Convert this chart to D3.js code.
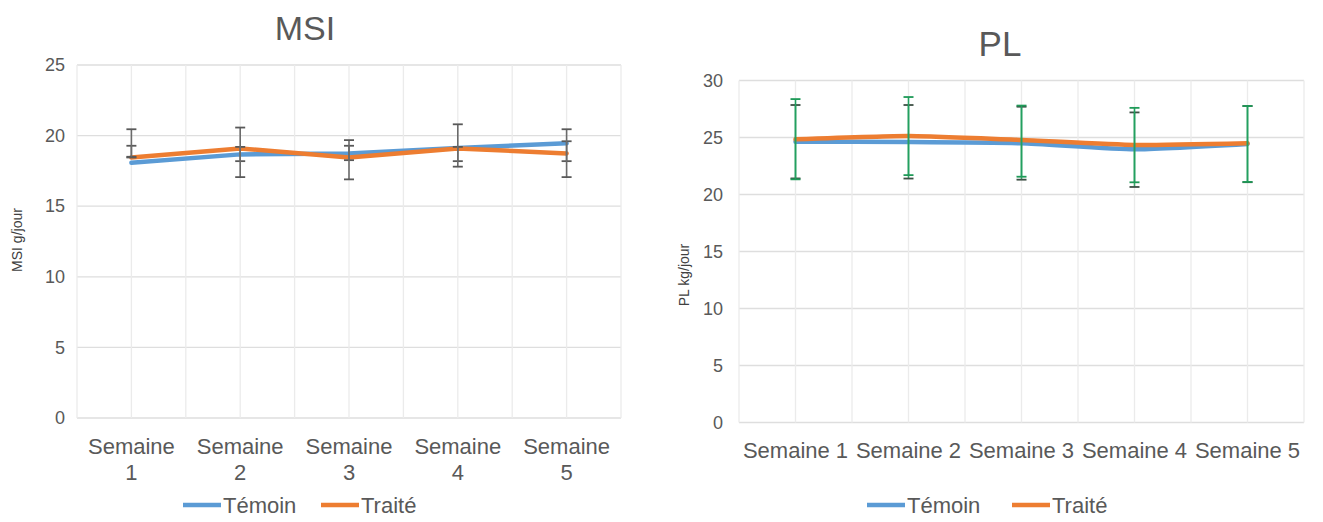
<!DOCTYPE html>
<html><head><meta charset="utf-8">
<script src="https://cdn.jsdelivr.net/npm/d3@7"></script>
<style>
html,body{margin:0;padding:0;background:#fff;}
text{font-family:"Liberation Sans",Arial,sans-serif;}
</style></head>
<body>
<svg id="chart" width="1323" height="522"></svg>
<script>
// ---------- data ----------
const weeks = ["Semaine 1","Semaine 2","Semaine 3","Semaine 4","Semaine 5"];
const seriesNames = ["Témoin","Traité"];

const msiTemoin = [18.07, 18.67, 18.74, 19.13, 19.45];
const msiTraite = [18.45, 19.09, 18.45, 19.09, 18.74];
const msiTemoinLow  = [18.5, 18.19, 18.26, 18.19, 18.19];
const msiTemoinHigh = [19.28, 19.2, 19.28, 19.2, 19.6];
const msiTraiteLow  = [18.45, 17.06, 16.9, 17.8, 17.06];
const msiTraiteHigh = [20.45, 20.57, 19.68, 20.8, 20.45];
const msiTicks = [0,5,10,15,20,25];

const plTemoin = [24.63, 24.6, 24.49, 23.96, 24.43];
const plTraite = [24.84, 25.13, 24.78, 24.34, 24.49];
const plTemoinLow  = [21.41, 21.4, 21.3, 20.66, 21.08];
const plTemoinHigh = [27.85, 27.85, 27.7, 27.2, 27.76];
const plTraiteLow  = [21.33, 21.7, 21.56, 21.07, 21.1];
const plTraiteHigh = [28.37, 28.55, 27.8, 27.6, 27.76];
const plTicks = [0,5,10,15,20,25,30];

const colors = {"Témoin":"#5B9BD5","Traité":"#ED7D31"};

const svg = d3.select("#chart");

function drawChart(cfg){
  const g = svg.append("g");
  const x = d3.scaleBand().domain(weeks).range([cfg.left, cfg.right]).padding(0);
  const y = d3.scaleLinear().domain([0, cfg.ymax]).range([cfg.bottom, cfg.top]);
  const gx = d3.scaleLinear().domain([0, weeks.length*2]).range([cfg.left, cfg.right]);

  // horizontal gridlines
  g.selectAll(".hg").data(cfg.ticks).join("line")
    .attr("x1", cfg.left).attr("x2", cfg.right)
    .attr("y1", d=>y(d)).attr("y2", d=>y(d))
    .attr("stroke", "#dedede").attr("stroke-width", 1.3);
  // vertical gridlines
  g.selectAll(".vg").data(d3.range(weeks.length*2+1)).join("line")
    .attr("x1", d=>gx(d)).attr("x2", d=>gx(d))
    .attr("y1", cfg.top).attr("y2", cfg.bottom)
    .attr("stroke", "#ebebeb").attr("stroke-width", 1.3);

  // y tick labels
  const ya = d3.axisLeft(y).tickValues(cfg.ticks).tickSize(0).tickPadding(cfg.tickPad);
  const yg = g.append("g").attr("transform", `translate(${cfg.left},0)`).call(ya);
  yg.select(".domain").remove();
  yg.selectAll("text").attr("fill","#595959").style("font-size","18px")
    .style("font-family","'Liberation Sans',Arial,sans-serif");

  // x labels
  const xa = d3.axisBottom(x).tickSize(0).tickPadding(0);
  const xg = g.append("g").attr("transform", `translate(0,${cfg.bottom})`).call(xa);
  xg.select(".domain").remove();
  xg.selectAll("text").remove();
  const xl = g.selectAll(".xl").data(weeks).join("text")
    .attr("x", d=>x(d)+x.bandwidth()/2)
    .attr("text-anchor","middle").attr("fill","#595959").style("font-size","22px");
  if (cfg.wrap){
    xl.each(function(d){
      const parts = d.split(" ");
      const t = d3.select(this);
      t.append("tspan").attr("x", x(d)+x.bandwidth()/2).attr("y", cfg.xLabelY).text(parts[0]);
      t.append("tspan").attr("x", x(d)+x.bandwidth()/2).attr("y", cfg.xLabelY+26).text(parts[1]);
    });
  } else {
    xl.attr("y", cfg.xLabelY).text(d=>d);
  }

  // title
  g.append("text").attr("x", cfg.titleX).attr("y", cfg.titleY)
    .attr("text-anchor","middle").attr("fill","#595959").style("font-size", cfg.titleSize+"px").text(cfg.title);
  // y axis label
  g.append("text").attr("transform", `translate(${cfg.ylabX},${cfg.ylabY}) rotate(-90)`)
    .attr("text-anchor","middle").attr("fill","#404040").style("font-size","14px").text(cfg.ylabel);

  const cx = d => x(weeks[d]) + x.bandwidth()/2;
  const line = d3.line().x((v,i)=>cx(i)).y(v=>y(v)).curve(cfg.curve);

  // lines
  const series = [
    {name:"Témoin", vals: cfg.temoin},
    {name:"Traité", vals: cfg.traite}
  ];
  series.forEach(s=>{
    g.append("path").datum(s.vals).attr("d", line)
      .attr("fill","none").attr("stroke", colors[s.name]).attr("stroke-width", 4.5)
      .attr("stroke-linejoin","round").attr("stroke-linecap","round");
  });

  // error bars
  const errs = [
    {low: cfg.temoinLow, high: cfg.temoinHigh, color: cfg.errColorTemoin, cap: cfg.capColorTemoin},
    {low: cfg.traiteLow, high: cfg.traiteHigh, color: cfg.errColorTraite, cap: cfg.capColorTraite}
  ];
  errs.forEach(e=>{
    const idx = d3.range(weeks.length);
    g.selectAll(null).data(idx).join("line")
      .attr("x1", cx).attr("x2", cx)
      .attr("y1", i=>y(e.low[i])).attr("y2", i=>y(e.high[i]))
      .attr("stroke", e.color).attr("stroke-width", 1.6);
    ["low","high"].forEach(k=>{
      g.selectAll(null).data(idx).join("line")
        .attr("x1", i=>cx(i)-5).attr("x2", i=>cx(i)+5)
        .attr("y1", i=>y(e[k][i])).attr("y2", i=>y(e[k][i]))
        .attr("stroke", e.cap).attr("stroke-width", 1.8);
    });
  });

  // legend
  const lg = g.append("g");
  const items = seriesNames.map((n,i)=>({name:n, x: cfg.legendX[i]}));
  lg.selectAll("line").data(items).join("line")
    .attr("x1", d=>d.x).attr("x2", d=>d.x+38)
    .attr("y1", cfg.legendY).attr("y2", cfg.legendY)
    .attr("stroke", d=>colors[d.name]).attr("stroke-width", 4.5);
  lg.selectAll("text").data(items).join("text")
    .attr("x", d=>d.x+40).attr("y", cfg.legendY+8)
    .attr("fill","#595959").style("font-size","22px").text(d=>d.name);
}

drawChart({
  title:"MSI", titleX:305, titleY:40, titleSize:34, ylabel:"MSI g/jour", ylabX:22, ylabY:240,
  left:77, right:621, top:65, bottom:418, ymax:25, ticks:msiTicks, tickPad:12,
  temoin:msiTemoin, traite:msiTraite,
  temoinLow:msiTemoinLow, temoinHigh:msiTemoinHigh, traiteLow:msiTraiteLow, traiteHigh:msiTraiteHigh,
  errColorTemoin:"#6b6b6b", capColorTemoin:"#595959", errColorTraite:"#6b6b6b", capColorTraite:"#595959",
  curve: d3.curveLinear, wrap:true, xLabelY:454, legendX:[183,321], legendY:505
});

drawChart({
  title:"PL", titleX:1000, titleY:56, titleSize:35, ylabel:"PL kg/jour", ylabX:689, ylabY:275,
  left:739, right:1304, top:80.5, bottom:422.5, ymax:30, ticks:plTicks, tickPad:16,
  temoin:plTemoin, traite:plTraite,
  temoinLow:plTemoinLow, temoinHigh:plTemoinHigh, traiteLow:plTraiteLow, traiteHigh:plTraiteHigh,
  errColorTemoin:"#3aa66a", capColorTemoin:"#3d4f45", errColorTraite:"#22a060", capColorTraite:"#1f9a58",
  curve: d3.curveCardinal.tension(0.5), wrap:false, xLabelY:458, legendX:[867,1012], legendY:505
});
</script>
</body></html>
